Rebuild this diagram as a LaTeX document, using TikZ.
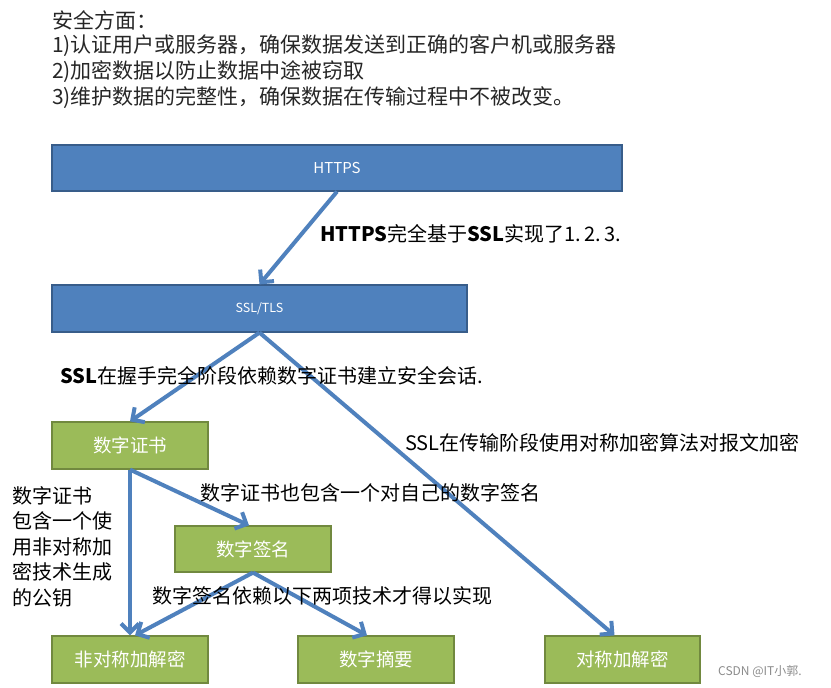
\documentclass[tikz,border=0pt]{standalone}
\usepackage{fontspec}
\setmainfont{Noto Sans CJK SC}
\newfontfamily\cjk{Noto Sans CJK SC}
\usetikzlibrary{arrows.meta}
\definecolor{bluefill}{HTML}{4F81BD}
\definecolor{blueline}{HTML}{385D8A}
\definecolor{greenfill}{HTML}{9BBB59}
\definecolor{greenline}{HTML}{71893F}
\definecolor{arrowblue}{HTML}{4F81BD}
\tikzset{
  bluebox/.style={draw=blueline, line width=1.2pt, fill=bluefill, text=white, inner sep=0pt},
  greenbox/.style={draw=greenline, line width=1.2pt, fill=greenfill, text=white, inner sep=0pt,
     minimum width=156pt, minimum height=47pt, font=\fontsize{18.5}{20}\selectfont},
  conn/.style={draw=arrowblue, line width=4pt, -{Straight Barb[length=9pt,width=18pt,line width=4pt]}},
  lbl/.style={anchor=west, inner sep=0pt, text=black, font=\fontsize{20}{22}\selectfont},
  toptext/.style={anchor=west, inner sep=0pt, text=black!85, font=\fontsize{21}{24}\selectfont},
}
\begin{document}
\begin{tikzpicture}[x=1pt,y=-1pt]
\path[use as bounding box, fill=white] (0,0) rectangle (831,688);

% top text
\node[toptext] (t1) at (52,20) {安全方面：};
\node[toptext] (t2) at (52,46) {1)认证用户或服务器，确保数据发送到正确的客户机或服务器};
\node[toptext] (t3) at (52,72) {2)加密数据以防止数据中途被窃取};
\node[toptext] (t4) at (52,98) {3)维护数据的完整性，确保数据在传输过程中不被改变。};

% boxes
\node[bluebox, minimum width=570pt, minimum height=46pt, font=\fontsize{15}{16}\selectfont] (https) at (337,168) {HTTPS};
\node[bluebox, minimum width=415pt, minimum height=47pt, font=\fontsize{12.5}{14}\selectfont] (ssl) at (259.5,308.5) {SSL/TLS};
\node[greenbox] (cert) at (130,445.5) {数字证书};
\node[greenbox, minimum height=46pt] (sig) at (253,549) {数字签名};
\node[greenbox] (asym) at (130,659.5) {非对称加解密};
\node[greenbox] (digest) at (376,659.5) {数字摘要};
\node[greenbox, minimum width=155pt] (sym) at (622.5,659.5) {对称加解密};

% connectors
\draw[conn] (https.south) -- (ssl.north);
\draw[conn] (ssl.south) -- (cert.north);
\draw[conn] (ssl.south) -- ([xshift=-8pt]sym.north);
\draw[conn] (cert.south) -- (asym.north);
\draw[conn] (cert.south) -- ([xshift=-4pt]sig.north);
\draw[conn] (sig.south) -- ([xshift=5pt]asym.north);
\draw[conn] (sig.south) -- ([xshift=-9pt]digest.north);

% labels
\node[lbl] (l1) at (320,234) {\textbf{HTTPS}完全基于\textbf{SSL}实现了1.\,2.\,3.};
\node[lbl] (l2) at (60,376) {\textbf{SSL}在握手完全阶段依赖数字证书建立安全会话.};
\node[lbl] (l3) at (405,443) {SSL在传输阶段使用对称加密算法对报文加密};
\node[lbl] (l4) at (200,493) {数字证书也包含一个对自己的数字签名};
\node[lbl, anchor=north west, align=left, font=\fontsize{20}{25.5}\selectfont] (l5) at (12,486) {数字证书\\包含一个使\\用非对称加\\密技术生成\\的公钥};
\node[lbl] (l6) at (152,596) {数字签名依赖以下两项技术才得以实现};

% watermark
\node[anchor=west, inner sep=0pt, text=black!45, font=\fontsize{12}{14}\selectfont] (wm) at (718,671) {CSDN @IT小郭.};
\end{tikzpicture}
\end{document}
